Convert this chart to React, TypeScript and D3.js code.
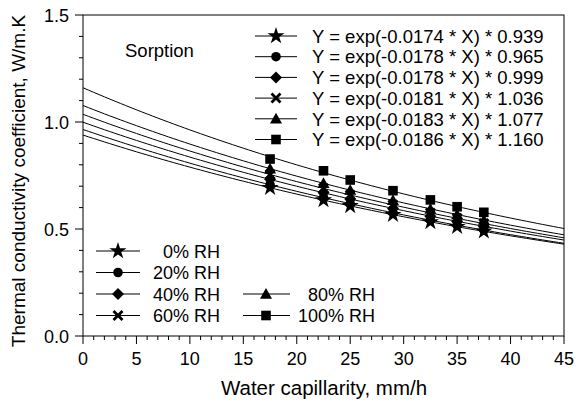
import React from "react";
import * as d3 from "d3";

const xValues = [17.5, 22.5, 25, 29, 32.5, 35, 37.5];
const seriesNames = ["0% RH", "20% RH", "40% RH", "60% RH", "80% RH", "100% RH"];
const seriesMarkers = ["star", "circle", "diamond", "cross", "triangle", "square"];
const fitRates = [0.0174, 0.0178, 0.0178, 0.0181, 0.0183, 0.0186];
const fitScales = [0.939, 0.965, 0.999, 1.036, 1.077, 1.160];
const fitLabels = [
  "Y = exp(-0.0174 * X) * 0.939",
  "Y = exp(-0.0178 * X) * 0.965",
  "Y = exp(-0.0178 * X) * 0.999",
  "Y = exp(-0.0181 * X) * 1.036",
  "Y = exp(-0.0183 * X) * 1.077",
  "Y = exp(-0.0186 * X) * 1.160",
];
const rh0 = [0.693, 0.635, 0.608, 0.567, 0.533, 0.511, 0.489];
const rh20 = [0.707, 0.647, 0.618, 0.576, 0.541, 0.518, 0.495];
const rh40 = [0.732, 0.669, 0.640, 0.596, 0.560, 0.536, 0.513];
const rh60 = [0.755, 0.690, 0.659, 0.613, 0.575, 0.550, 0.526];
const rh80 = [0.782, 0.714, 0.682, 0.634, 0.594, 0.568, 0.542];
const rh100 = [0.827, 0.772, 0.729, 0.679, 0.636, 0.604, 0.578];
const seriesValues = [rh0, rh20, rh40, rh60, rh80, rh100];
const xTicks = [0, 5, 10, 15, 20, 25, 30, 35, 40, 45];
const yTicks = [0.0, 0.5, 1.0, 1.5];

const FONT = "Liberation Sans, Arial, sans-serif";

function Marker({ kind, x, y }: { kind: string; x: number; y: number }) {
  const s = 5.5;
  if (kind === "circle") return <circle cx={x} cy={y} r={4.8} fill="#000" />;
  if (kind === "square") return <rect x={x - 4.8} y={y - 4.8} width={9.6} height={9.6} fill="#000" />;
  if (kind === "diamond")
    return <path d={`M${x},${y - 6}L${x + 6},${y}L${x},${y + 6}L${x - 6},${y}Z`} fill="#000" />;
  if (kind === "triangle")
    return <path d={`M${x},${y - 6}L${x + 6},${y + 4.8}L${x - 6},${y + 4.8}Z`} fill="#000" />;
  if (kind === "cross")
    return (
      <path
        d={`M${x - s + 1},${y - s + 1}L${x + s - 1},${y + s - 1}M${x + s - 1},${y - s + 1}L${x - s + 1},${y + s - 1}`}
        stroke="#000"
        strokeWidth={2.8}
      />
    );
  const star = d3.symbol(d3.symbolStar, 90)();
  return <path d={star || ""} transform={`translate(${x},${y})`} fill="#000" />;
}

export default function App() {
  const W = 576, H = 403;
  const left = 83, right = 564, top = 15, bottom = 336;
  const x = d3.scaleLinear().domain([0, 45]).range([left, right]);
  const y = d3.scaleLinear().domain([0, 1.5]).range([bottom, top]);
  const line = d3.line<number>().x((d) => x(d[0] as any)).y((d) => y(d[1] as any));
  const curveX = d3.range(0, 45.01, 0.5);

  const xMinor = d3.range(0, 46, 1);
  const yMinor = d3.range(0, 1.501, 0.1);

  const topLegendY0 = 36, topLegendDy = 20.7;
  const botRows = [251, 272.5, 294, 315.5];

  return (
    <svg width={W} height={H} style={{ position: "absolute", left: 0, top: 0, background: "#fff" }} fontFamily={FONT}>
      <rect x={0} y={0} width={W} height={H} fill="#fff" />
      <rect x={left} y={top} width={right - left} height={bottom - top} fill="none" stroke="#000" strokeWidth={1} />
      {xMinor.map((t) => (
        <line key={"xm" + t} x1={x(t)} x2={x(t)} y1={bottom} y2={bottom + (t % 5 === 0 ? 8 : 4)} stroke="#000" />
      ))}
      {xTicks.map((t) => (
        <text key={"xt" + t} x={x(t)} y={365} textAnchor="middle" fontSize={18}>
          {t}
        </text>
      ))}
      {yMinor.map((t, i) => (
        <line key={"ym" + i} x1={left - (i % 5 === 0 ? 8 : 4)} x2={left} y1={y(t)} y2={y(t)} stroke="#000" />
      ))}
      {yTicks.map((t) => (
        <text key={"yt" + t} x={69} y={y(t) + 7} textAnchor="end" fontSize={18}>
          {t.toFixed(1)}
        </text>
      ))}
      <text x={324} y={395} textAnchor="middle" fontSize={20.5}>
        Water capillarity, mm/h
      </text>
      <text transform={`translate(25,181) rotate(-90)`} textAnchor="middle" fontSize={19}>
        Thermal conductivity coefficient, W/m.K
      </text>
      {fitRates.map((k, i) => (
        <path
          key={"c" + i}
          d={line(curveX.map((v) => [v, Math.exp(-k * v) * fitScales[i]]) as any) || ""}
          fill="none"
          stroke="#000"
          strokeWidth={1}
        />
      ))}
      {seriesValues.map((vals, i) =>
        vals.map((v, j) => <Marker key={`p${i}-${j}`} kind={seriesMarkers[i]} x={x(xValues[j])} y={y(v)} />)
      )}
      <text x={125} y={57} fontSize={18.5}>
        Sorption
      </text>
      {fitLabels.map((lab, i) => {
        const yy = topLegendY0 + i * topLegendDy;
        return (
          <g key={"tl" + i}>
            <line x1={255} x2={297} y1={yy} y2={yy} stroke="#000" />
            <Marker kind={seriesMarkers[i]} x={276} y={yy} />
            <text x={312} y={yy + 6.7} fontSize={18.5}>
              {lab}
            </text>
          </g>
        );
      })}
      {seriesNames.slice(0, 4).map((n, i) => {
        const yy = botRows[i];
        return (
          <g key={"bl" + i}>
            <line x1={96} x2={140} y1={yy} y2={yy} stroke="#000" />
            <Marker kind={seriesMarkers[i]} x={118} y={yy} />
            <text x={220} y={yy + 6.5} fontSize={18} textAnchor="end">
              {n}
            </text>
          </g>
        );
      })}
      {seriesNames.slice(4).map((n, i) => {
        const yy = botRows[i + 2];
        return (
          <g key={"br" + i}>
            <line x1={243} x2={290} y1={yy} y2={yy} stroke="#000" />
            <Marker kind={seriesMarkers[i + 4]} x={266} y={yy} />
            <text x={375} y={yy + 6.5} fontSize={18} textAnchor="end">
              {n}
            </text>
          </g>
        );
      })}
    </svg>
  );
}
